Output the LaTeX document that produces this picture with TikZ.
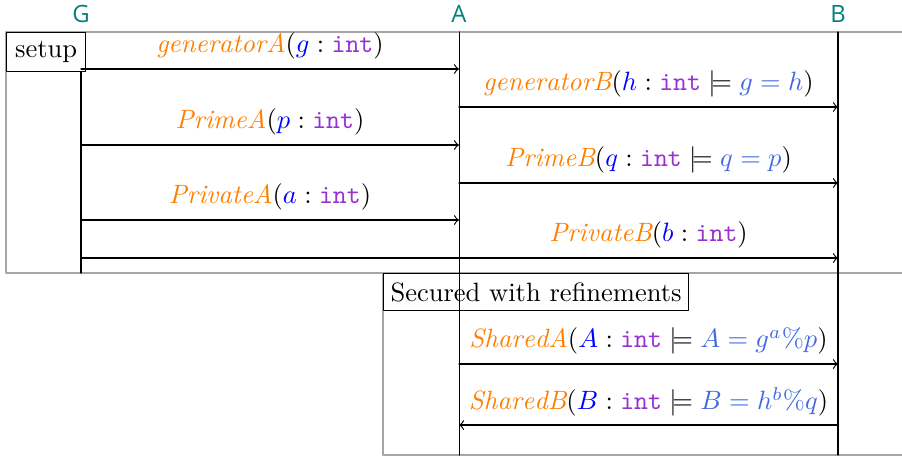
\documentclass[tikz,border=0pt]{standalone}
\usepackage{fontspec}
\newfontfamily\headfont{Open Sans}
\definecolor{headcol}{RGB}{0,128,128}
\definecolor{namecol}{RGB}{255,127,0}
\definecolor{intcol}{RGB}{150,50,210}
\definecolor{refcol}{RGB}{65,105,225}
\newcommand{\msgname}[1]{\textcolor{namecol}{\mathit{#1}}}
\newcommand{\msgvar}[1]{\textcolor{blue}{#1}}
\newcommand{\msgint}{\textcolor{intcol}{\texttt{int}}}
\newcommand{\msgref}[1]{\textcolor{refcol}{#1}}
\begin{document}
\begin{tikzpicture}[line cap=round,line join=round,>=to,x=1.0cm,y=1.0cm,
		head/.style={font=\headfont\fontsize{9}{11}\selectfont,text=headcol},
		frame/.style={draw=gray!70,line width=0.5pt},
		msg/.style={->,line width=0.45pt},
		lbl/.style={midway,yshift=0.305cm}]
		\useasboundingbox (0,0) rectangle (11.963,-6.061);
		% participants
		\node[head] (G) at (1.074,-0.186) {G};
		\node[head] (A) at (6.088,-0.186) {A};
		\node[head] (B) at (11.114,-0.186) {B};
		% frames
		\draw [frame] (12.2,-0.424)-- (0.08,-0.424)-- (0.08,-3.621)-- (12.2,-3.621);
		\draw [frame] (12.2,-3.621)-- (5.08,-3.621)-- (5.08,-6.035)-- (12.2,-6.035);
		\node[draw,anchor=north west,minimum width=1.05cm,minimum height=0.52cm,inner sep=2pt] (setup) at (0.08,-0.424) {setup};
		\node[draw,anchor=north west,minimum width=4.045cm,minimum height=0.49cm,inner sep=2pt] (secured) at (5.08,-3.621) {Secured with refinements};
		% lifelines
		\draw (G |- setup.south)-- (G |- 0,-3.621);
		\draw (A |- 0,-0.424)-- (A |- 0,-6.035);
		\draw (B |- 0,-0.424)-- (B |- 0,-6.035);
		% messages
		\draw [msg] (G |- 0,-0.915)-- node[lbl] {$\msgname{generatorA}(\msgvar{g} : \msgint)$} (A |- 0,-0.915);
		\draw [msg] (A |- 0,-1.419)-- node[lbl] {$\msgname{generatorB}(\msgvar{h} : \msgint \models \msgref{g = h})$} (B |- 0,-1.419);
		\draw [msg] (G |- 0,-1.923)-- node[lbl] {$\msgname{PrimeA}(\msgvar{p} : \msgint)$} (A |- 0,-1.923);
		\draw [msg] (A |- 0,-2.427)-- node[lbl] {$\msgname{PrimeB}(\msgvar{q} : \msgint \models \msgref{q = p})$} (B |- 0,-2.427);
		\draw [msg] (G |- 0,-2.918)-- node[lbl] {$\msgname{PrivateA}(\msgvar{a} : \msgint)$} (A |- 0,-2.918);
		\draw [msg] (G |- 0,-3.422)-- (A |- 0,-3.422)-- node[lbl] {$\msgname{PrivateB}(\msgvar{b} : \msgint)$} (B |- 0,-3.422);
		\draw [msg] (A |- 0,-4.828)-- node[lbl] {$\msgname{SharedA}(\msgvar{A} : \msgint \models \msgref{A = g^a\%p})$} (B |- 0,-4.828);
		\draw [msg] (B |- 0,-5.637)-- node[lbl] {$\msgname{SharedB}(\msgvar{B} : \msgint \models \msgref{B = h^b\%q})$} (A |- 0,-5.637);
		\end{tikzpicture}
\end{document}
